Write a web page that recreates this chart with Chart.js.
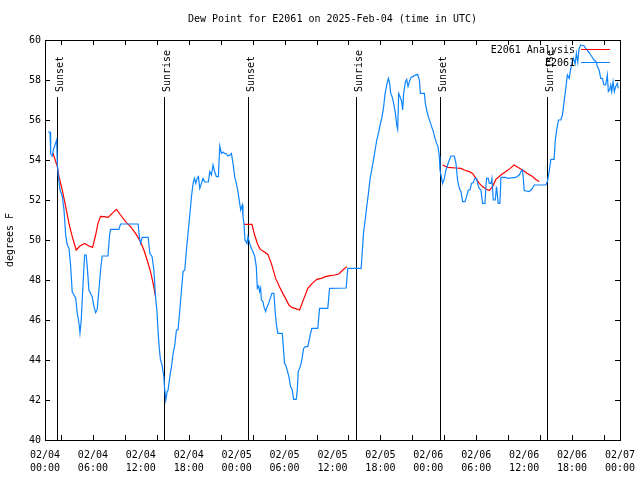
<!DOCTYPE html>
<html>
<head>
<meta charset="utf-8">
<script src="https://cdn.jsdelivr.net/npm/chart.js@4"></script>
<style>
html, body { margin: 0; padding: 0; background: #fff; }
canvas { display: block; }
</style>
</head>
<body>
<canvas id="dewChart" width="640" height="480"></canvas>
<script>
// hours since 02/04 00:00 UTC
const obsHours = [
  0.38, 0.63, 0.71, 0.91, 1.04, 1.25, 1.46, 1.54, 1.66, 1.88,
  2.16, 2.38, 2.59, 2.79, 3.0, 3.21, 3.41, 3.63, 3.84, 4.04,
  4.25, 4.38, 4.54, 4.66, 4.79, 4.96, 5.16, 5.29, 5.5, 5.71,
  5.91, 6.13, 6.34, 6.54, 6.75, 6.96, 7.16, 7.88, 8.09, 8.21,
  9.25, 9.46, 11.66, 11.84, 11.96, 12.16, 12.91, 13.13, 13.41, 13.63,
  13.84, 14.04, 14.16, 14.29, 14.46, 14.66, 14.88, 14.96, 15.13, 15.29,
  15.41, 15.63, 15.84, 16.04, 16.25, 16.46, 16.66, 16.88, 17.09, 17.29,
  17.5, 17.71, 17.91, 18.13, 18.34, 18.54, 18.71, 18.88, 19.04, 19.21,
  19.38, 19.59, 19.79, 20.0, 20.46, 20.63, 20.84, 21.04, 21.25, 21.46,
  21.71, 21.88, 22.09, 22.29, 22.5, 22.71, 22.91, 23.13, 23.34, 23.54,
  23.75, 23.96, 24.16, 24.38, 24.5, 24.71, 24.79, 24.91, 25.04, 25.29,
  25.41, 25.63, 25.84, 26.04, 26.25, 26.46, 26.59, 26.75, 26.88, 27.0,
  27.09, 27.29, 27.41, 27.63, 27.79, 28.0, 28.21, 28.41, 28.66, 28.84,
  28.96, 29.16, 29.71, 29.84, 30.0, 30.21, 30.54, 30.75, 30.96, 31.13,
  31.46, 31.59, 31.71, 31.96, 32.16, 32.38, 32.59, 32.91, 33.21, 33.41,
  34.16, 34.38, 35.41, 35.63, 37.71, 37.91, 39.59, 39.71, 39.88, 40.09,
  40.29, 40.5, 40.71, 40.91, 41.13, 41.34, 41.54, 41.75, 41.96, 42.16,
  42.38, 42.59, 42.79, 43.0, 43.16, 43.29, 43.46, 43.66, 43.88, 44.04,
  44.16, 44.29, 44.46, 44.66, 44.79, 44.91, 45.13, 45.29, 45.46, 45.63,
  45.84, 46.25, 46.66, 46.88, 47.0, 47.5, 47.63, 47.79, 48.0, 48.21,
  48.41, 48.63, 48.84, 49.04, 49.21, 49.38, 49.46, 49.66, 49.79, 50.0,
  50.21, 50.41, 50.63, 50.84, 51.25, 51.46, 51.66, 51.88, 52.09, 52.29,
  52.59, 52.79, 53.0, 53.21, 53.41, 53.63, 53.84, 54.04, 54.16, 54.38,
  54.59, 54.79, 55.09, 55.21, 55.29, 55.5, 55.63, 55.84, 55.96, 56.13,
  56.38, 56.54, 56.75, 56.96, 57.09, 57.71, 57.91, 58.96, 59.38, 59.59,
  59.79, 59.91, 60.0, 60.63, 60.84, 61.04, 61.25, 62.71, 62.91, 63.13,
  63.34, 63.75, 63.88, 64.04, 64.29, 64.59, 64.79, 65.0, 65.21, 65.41,
  65.63, 65.84, 66.04, 66.16, 66.38, 66.54, 66.71, 66.88, 67.09, 67.5,
  67.71, 68.04, 68.34, 68.75, 69.04, 69.16, 69.38, 69.59, 69.79, 70.0,
  70.21, 70.41, 70.54, 70.71, 70.84, 70.96, 71.13, 71.29, 71.46, 71.66, 71.79
];
const obsValues = [
  55.4, 55.4, 54.3, 54.2, 54.5, 54.75, 55.0, 53.85, 53.25, 52.5,
  52.2, 51.5, 50.25, 49.75, 49.6, 48.7, 47.4, 47.25, 47.1, 46.35,
  45.85, 45.35, 46.0, 47.0, 48.0, 49.25, 49.25, 48.67, 47.5, 47.33,
  47.17, 46.67, 46.37, 46.53, 47.5, 48.5, 49.2, 49.2, 50.25, 50.53,
  50.53, 50.8, 50.8, 50.08, 49.83, 50.13, 50.13, 49.33, 49.17, 48.5,
  47.17, 46.33, 45.42, 44.67, 44.0, 43.75, 43.17, 42.67, 42.0, 42.4,
  42.5, 43.17, 43.67, 44.33, 44.75, 45.5, 45.5, 46.5, 47.5, 48.42,
  48.5, 49.5, 50.33, 51.25, 52.17, 52.83, 53.08, 52.83, 53.08, 53.17,
  52.58, 52.83, 53.08, 52.9, 52.9, 53.42, 53.25, 53.75, 53.4, 53.17,
  53.17, 54.7, 54.33, 54.4, 54.33, 54.3, 54.2, 54.25, 54.33, 53.83,
  53.17, 52.83, 52.42, 51.83, 51.5, 51.75, 51.17, 50.83, 50.0, 49.83,
  50.17, 49.83, 49.58, 49.42, 49.2, 48.67, 47.58, 47.7, 47.42, 47.6,
  47.0, 46.92, 46.67, 46.42, 46.63, 46.83, 47.08, 47.33, 47.33, 46.33,
  45.83, 45.33, 45.33, 44.67, 43.83, 43.67, 43.17, 42.67, 42.5, 42.03,
  42.03, 42.5, 43.42, 43.67, 44.0, 44.58, 44.67, 44.67, 45.25, 45.58,
  45.58, 46.58, 46.58, 47.58, 47.6, 48.58, 48.58, 49.33, 50.33, 51.0,
  51.67, 52.33, 53.08, 53.5, 54.0, 54.5, 55.0, 55.33, 55.75, 56.08,
  56.58, 57.33, 57.75, 58.08, 57.83, 57.33, 57.17, 56.83, 56.33, 55.75,
  55.53, 57.33, 57.17, 56.92, 56.5, 57.33, 57.92, 58.03, 57.67, 57.92,
  58.13, 58.22, 58.28, 58.0, 57.33, 57.33, 56.83, 56.5, 56.17, 55.92,
  55.67, 55.42, 55.08, 54.83, 54.67, 54.17, 53.5, 53.08, 52.83, 53.08,
  53.5, 53.75, 54.0, 54.2, 54.2, 53.83, 53.0, 52.58, 52.42, 51.92,
  51.92, 52.17, 52.5, 52.5, 52.83, 52.87, 53.08, 53.08, 52.83, 52.58,
  52.5, 51.83, 51.83, 52.67, 53.08, 53.08, 52.83, 52.83, 53.08, 52.0,
  52.0, 52.67, 51.83, 51.83, 53.13, 53.13, 53.08, 53.13, 53.25, 53.42,
  53.5, 53.0, 52.47, 52.42, 52.5, 52.58, 52.75, 52.75, 52.92, 53.42,
  54.03, 54.03, 54.92, 55.42, 56.0, 56.0, 56.25, 56.92, 57.58, 58.25,
  58.08, 58.58, 58.92, 59.08, 58.8, 59.33, 58.9, 59.58, 59.75, 59.7,
  59.58, 59.42, 59.25, 59.0, 58.9, 58.67, 58.5, 58.08, 58.08, 57.75,
  57.75, 58.25, 57.42, 57.5, 57.75, 57.42, 57.92, 57.42, 57.67, 57.83, 57.58
];

// analysis runs (three separate pieces)
const anaHours1 = [1.0, 1.54, 1.75, 2.16, 2.59, 3.0, 3.41, 3.91, 4.38, 4.96, 5.5, 5.96, 6.34, 6.63, 6.96,
  7.38, 7.91, 8.41, 8.96, 9.46, 10.09, 10.71, 11.34, 11.96, 12.38, 12.79, 13.21, 13.54, 13.84];
const anaValues1 = [54.35, 53.67, 53.17, 52.5, 51.67, 50.83, 50.17, 49.5, 49.7, 49.83, 49.7, 49.63, 50.25, 50.83, 51.18,
  51.17, 51.13, 51.33, 51.53, 51.25, 50.92, 50.67, 50.33, 49.92, 49.5, 49.0, 48.42, 47.83, 47.17];
const anaHours2 = [24.94, 25.91, 26.25, 26.66, 26.96, 27.38, 27.91, 28.34, 28.88, 29.46, 30.0, 30.54, 30.96,
  31.38, 31.88, 32.38, 32.91, 33.46, 34.04, 34.59, 35.13, 35.71, 36.25, 36.79, 37.29, 37.79];
const anaValues2 = [50.78, 50.78, 50.25, 49.75, 49.53, 49.42, 49.28, 48.83, 48.08, 47.58, 47.17, 46.75, 46.62,
  46.57, 46.5, 47.03, 47.58, 47.83, 48.03, 48.08, 48.17, 48.22, 48.25, 48.3, 48.5, 48.67];
const anaHours3 = [49.79, 50.41, 51.46, 52.09, 52.5, 53.13, 53.54, 53.96, 54.38, 54.79, 55.21, 55.63, 56.04,
  56.46, 57.09, 57.71, 58.25, 58.75, 59.25, 59.79, 60.41, 61.04, 61.46, 61.88];
const anaValues3 = [53.75, 53.63, 53.6, 53.58, 53.5, 53.42, 53.33, 53.08, 52.83, 52.67, 52.55, 52.47, 52.67,
  53.03, 53.25, 53.42, 53.58, 53.75, 53.63, 53.5, 53.33, 53.17, 53.03, 52.92];

const sunHours = [1.55, 14.9, 25.4, 38.9, 49.4, 62.8];
const sunLabels = ["Sunset", "Sunrise", "Sunset", "Sunrise", "Sunset", "Sunrise"];

const xLabelHours = [0, 6, 12, 18, 24, 30, 36, 42, 48, 54, 60, 66, 72];
const xLabelDates = ["02/04", "02/04", "02/04", "02/04", "02/05", "02/05", "02/05", "02/05", "02/06", "02/06", "02/06", "02/06", "02/07"];
const xLabelTimes = ["00:00", "06:00", "12:00", "18:00", "00:00", "06:00", "12:00", "18:00", "00:00", "06:00", "12:00", "18:00", "00:00"];
const xTickHours = [2, 6, 10, 14, 18, 22, 26, 30, 34, 38, 42, 46, 50, 54, 58, 62, 66, 70];
const yTicks = [40, 42, 44, 46, 48, 50, 52, 54, 56, 58, 60];

const BLUE = "#0c84ff";
const RED = "#ff0000";
const FONT = '10px "DejaVu Sans Mono", "Liberation Mono", monospace';

const toPoints = (hs, vs) => hs.map((h, i) => ({ x: h, y: vs[i] }));
const analysis = [].concat(
  toPoints(anaHours1, anaValues1), [{ x: 19, y: null }],
  toPoints(anaHours2, anaValues2), [{ x: 43, y: null }],
  toPoints(anaHours3, anaValues3)
);

const frame = {
  id: "frame",
  beforeDatasetsDraw(chart) {
    const { ctx, chartArea: a, scales: { x } } = chart;
    ctx.save();
    ctx.strokeStyle = "#000";
    ctx.lineWidth = 1;
    ctx.fillStyle = "#000";
    ctx.font = FONT;
    sunHours.forEach((h, i) => {
      const px = Math.round(x.getPixelForValue(h)) + 0.5;
      ctx.beginPath();
      ctx.moveTo(px, a.top + 57);
      ctx.lineTo(px, a.bottom);
      ctx.stroke();
      ctx.save();
      ctx.translate(px + 5, a.top + 52);
      ctx.rotate(-Math.PI / 2);
      ctx.textAlign = "left";
      ctx.textBaseline = "alphabetic";
      ctx.fillText(sunLabels[i], 0, 0);
      ctx.restore();
    });
    ctx.restore();
  },
  afterDatasetsDraw(chart) {
    const { ctx, chartArea: a, scales: { x, y } } = chart;
    ctx.save();
    ctx.strokeStyle = "#000";
    ctx.fillStyle = "#000";
    ctx.lineWidth = 1;
    ctx.font = FONT;

    // border
    ctx.strokeRect(a.left + 0.5, a.top + 0.5, a.right - a.left, a.bottom - a.top);

    // y ticks + labels
    ctx.textAlign = "right";
    ctx.textBaseline = "middle";
    yTicks.forEach(v => {
      const py = Math.round(y.getPixelForValue(v)) + 0.5;
      ctx.beginPath();
      ctx.moveTo(a.left, py); ctx.lineTo(a.left + 5, py);
      ctx.moveTo(a.right, py); ctx.lineTo(a.right - 5, py);
      ctx.stroke();
      ctx.fillText(String(v), a.left - 4, py);
    });

    // x ticks
    xTickHours.forEach(h => {
      const px = Math.round(x.getPixelForValue(h)) + 0.5;
      ctx.beginPath();
      ctx.moveTo(px, a.bottom); ctx.lineTo(px, a.bottom - 5);
      ctx.moveTo(px, a.top); ctx.lineTo(px, a.top + 5);
      ctx.stroke();
    });

    // x labels
    ctx.textAlign = "center";
    xLabelHours.forEach((h, i) => {
      const px = x.getPixelForValue(h);
      ctx.fillText(xLabelDates[i], px, a.bottom + 15);
      ctx.fillText(xLabelTimes[i], px, a.bottom + 28);
    });

    // title
    ctx.fillText("Dew Point for E2061 on 2025-Feb-04 (time in UTC)", (a.left + a.right) / 2, 19);

    // y axis title
    ctx.save();
    ctx.translate(10, (a.top + a.bottom) / 2);
    ctx.rotate(-Math.PI / 2);
    ctx.fillText("degrees F", 0, 0);
    ctx.restore();

    // legend
    ctx.textAlign = "right";
    ctx.fillText("E2061 Analysis", a.right - 45, a.top + 10);
    ctx.fillText("E2061", a.right - 45, a.top + 23);
    ctx.strokeStyle = RED;
    ctx.beginPath(); ctx.moveTo(a.right - 39, a.top + 9.5); ctx.lineTo(a.right - 10, a.top + 9.5); ctx.stroke();
    ctx.strokeStyle = BLUE;
    ctx.beginPath(); ctx.moveTo(a.right - 39, a.top + 22.5); ctx.lineTo(a.right - 10, a.top + 22.5); ctx.stroke();
    ctx.restore();
  }
};

new Chart(document.getElementById("dewChart").getContext("2d"), {
  type: "line",
  data: {
    datasets: [
      {
        label: "E2061",
        data: toPoints(obsHours, obsValues),
        borderColor: BLUE,
        borderWidth: 1.2,
        pointRadius: 0,
        tension: 0,
        order: 0,
      },
      {
        label: "E2061 Analysis",
        data: analysis,
        borderColor: RED,
        borderWidth: 1.2,
        pointRadius: 0,
        tension: 0,
        spanGaps: false,
        order: 1,
      },
    ],
  },
  options: {
    responsive: false,
    animation: false,
    layout: { padding: { left: 45, right: 20, top: 40, bottom: 40 } },
    scales: {
      x: { type: "linear", min: 0, max: 72, display: false },
      y: { min: 40, max: 60, display: false },
    },
    plugins: {
      legend: { display: false },
      tooltip: { enabled: false },
      title: { display: false },
    },
  },
  plugins: [frame],
});
</script>
</body>
</html>
